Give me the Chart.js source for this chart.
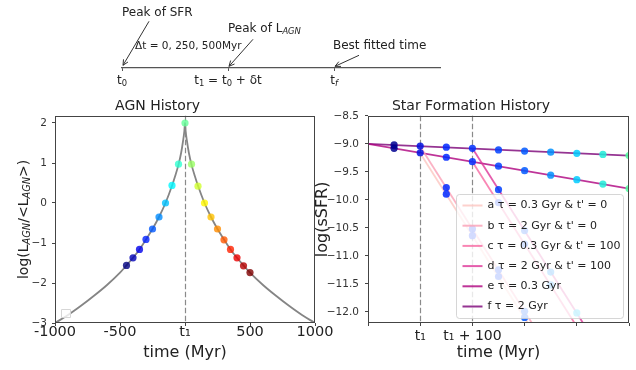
<!DOCTYPE html>
<html>
<head>
<meta charset="utf-8">
<script src="https://cdn.jsdelivr.net/npm/chart.js@4.4.0/dist/chart.umd.min.js"></script>
<style>
  html, body { margin: 0; padding: 0; background: #fff; }
  #wrap { position: relative; width: 636px; height: 370px; overflow: hidden; }
  canvas { position: absolute; }
</style>
</head>
<body>
<div id="wrap">
  <canvas id="timeline" width="636" height="100" style="left:0px;top:0px"></canvas>
  <canvas id="agn" width="345" height="275" style="left:0px;top:95px"></canvas>
  <canvas id="sfh" width="323" height="275" style="left:313px;top:95px"></canvas>
</div>
<script>
// ---- top sketch: timeline ----
const timelinePos = [0, 1, 2];
const timelineEnd = 3;
const timelineLabels = [
  [['t'], ['0', 'sub']],
  [['t'], ['1', 'sub'], [' = t'], ['0', 'sub'], [' + δt']],
  [['t'], ['f', 'subi']]
];

// ---- AGN history ----
const agnDotTimes = [-450, -400, -350, -300, -250, -200, -150, -100, -50, 0,
                     50, 100, 150, 200, 250, 300, 350, 400, 450, 500];
const agnDotValues = [-1.56, -1.37, -1.16, -0.91, -0.65, -0.35, 0.0, 0.44, 0.97, 2.0,
                      0.97, 0.42, 0.0, -0.35, -0.65, -0.92, -1.16, -1.37, -1.57, -1.74];
const agnCurveTimes = [-1000, -900, -800, -700, -600, -500, -450, -400, -350, -300, -250, -200,
                       -150, -100, -75, -50, -30, -15, -5, 0, 5, 15, 30, 50, 75, 100, 150,
                       200, 250, 300, 350, 400, 450, 500, 600, 700, 800, 900, 1000];
const agnCurveValues = [-3.0, -2.8, -2.57, -2.32, -2.05, -1.74, -1.56, -1.37, -1.16, -0.91, -0.65, -0.35,
                        0.0, 0.43, 0.68, 0.96, 1.25, 1.55, 1.8, 2.0, 1.8, 1.55, 1.25, 0.96, 0.68, 0.43, 0.0,
                        -0.35, -0.65, -0.91, -1.16, -1.37, -1.56, -1.74, -2.05, -2.32, -2.57, -2.8, -3.0];
const agnXTicks = [-1000, -500, 0, 500, 1000];
const agnXLabels = ['-1000', '-500', 't₁', '500', '1000'];

// ---- star formation history ----
const sfhTimes = [-50, 0, 50, 100, 150, 200, 250, 300, 350, 400];
const fDots = [-9.02, -9.04, -9.06, -9.08, -9.11, -9.13, -9.15, -9.17, -9.19, -9.21];
const eDots = [-9.08, -9.16, -9.24, -9.32, -9.40, -9.48, -9.56, -9.64, -9.72, -9.80];
const abTimes = [50, 100, 150, 200];
const aDots = [-9.90, -10.64, -11.37, -12.10];
const bDots = [-9.78, -10.52, -11.25, -11.99];
const cdTimes = [150, 200, 250, 300];
const cDots = [-10.05, -10.79, -11.52, -12.26];
const dDots = [-9.82, -10.55, -11.29, -12.02];
const baseTimes = [-100, 400];
const fLine = [-9.0, -9.21];
const eLine = [-9.0, -9.80];
const abLineTimes = [0, 250];
const aLine = [-9.17, -12.85];
const bLine = [-9.05, -12.73];
const cdLineTimes = [100, 350];
const cLine = [-9.32, -13.0];
const dLine = [-9.08, -12.76];
const sfhXTicks = [-100, 0, 100, 200, 300, 400];
const sfhXLabels = ['', 't₁', 't₁ + 100', '', '', ''];
const sfhLabels = ["a τ = 0.3 Gyr & t' = 0", "b τ = 2 Gyr & t' = 0", "c τ = 0.3 Gyr & t' = 100",
                   "d τ = 2 Gyr & t' = 100", "e τ = 0.3 Gyr", "f τ = 2 Gyr"];

// colours
const agnDotColors = ['#000080', '#0000b5', '#0000eb', '#0021ff', '#0057ff', '#008cff', '#00c2ff',
  '#00f8ff', '#2effd1', '#64ff99', '#9aff65', '#d0ff2e', '#fff800', '#ffc200', '#ff8c00',
  '#ff5700', '#ff2100', '#eb0000', '#b50000', '#800000'];
const sfhDotColors = ['#000090', '#0010e0', '#0028ff', '#0030ff', '#0040ff', '#0058ff',
  '#0090ff', '#00ccff', '#20ecd8', '#50ffa0'];
const sfhLineColors = ['#fcc5c0', '#fa9fb5', '#f768a1', '#dd3497', '#ae017e', '#7a0177'];

const FONT = "'DejaVu Sans', sans-serif";
Chart.defaults.font.family = FONT;
Chart.defaults.color = '#222';

function pts(xs, ys) { return xs.map((x, i) => ({ x: x, y: ys[i] })); }
function minus(v) { return v < 0 ? '−' + Math.abs(v) : String(v); }
function alpha(c, a) { return c + Math.round(a * 255).toString(16).padStart(2, '0'); }
function sfhColor(t) { return alpha(sfhDotColors[sfhTimes.indexOf(t)], 0.85); }

// text with subscripts: parts = [[text, 'sub' | 'subi' | undefined], ...]
function drawRich(ctx, parts, x, y, size, align) {
  const font = p => (p[1] === 'subi' ? 'italic ' : '') + (p[1] ? size * 0.7 : size) + 'px ' + FONT;
  let w = 0;
  parts.forEach(p => { ctx.font = font(p); w += ctx.measureText(p[0]).width; });
  let cx = align === 'center' ? x - w / 2 : x;
  ctx.save();
  ctx.fillStyle = '#222';
  ctx.textAlign = 'left';
  ctx.textBaseline = 'alphabetic';
  parts.forEach(p => {
    ctx.font = font(p);
    ctx.fillText(p[0], cx, y + (p[1] ? size * 0.2 : 0));
    cx += ctx.measureText(p[0]).width;
  });
  ctx.restore();
}

function arrow(ctx, x0, y0, x1, y1) {
  const ang = Math.atan2(y1 - y0, x1 - x0);
  ctx.save();
  ctx.strokeStyle = '#333';
  ctx.lineWidth = 1;
  ctx.beginPath();
  ctx.moveTo(x0, y0); ctx.lineTo(x1, y1);
  [0.45, -0.45].forEach(d => {
    ctx.moveTo(x1, y1);
    ctx.lineTo(x1 - 6 * Math.cos(ang + d), y1 - 6 * Math.sin(ang + d));
  });
  ctx.stroke();
  ctx.restore();
}

// frame round the plot area
const frame = {
  id: 'frame',
  afterDatasetsDraw(chart) {
    const { ctx, chartArea: a } = chart;
    ctx.save();
    ctx.strokeStyle = '#444';
    ctx.lineWidth = 1;
    ctx.strokeRect(Math.round(a.left) + 0.5, Math.round(a.top) + 0.5,
      Math.round(a.right) - Math.round(a.left) - 1, Math.round(a.bottom) - Math.round(a.top) - 1);
    ctx.restore();
  }
};

// dashed vertical guides
const guides = {
  id: 'guides',
  beforeDatasetsDraw(chart, args, opts) {
    const { ctx, chartArea: a, scales: { x } } = chart;
    ctx.save();
    ctx.strokeStyle = '#8a8a8a';
    ctx.lineWidth = 1.2;
    ctx.setLineDash([5.5, 2.5]);
    (opts.at || []).forEach(v => {
      const px = Math.round(x.getPixelForValue(v)) + 0.5;
      ctx.beginPath(); ctx.moveTo(px, a.top); ctx.lineTo(px, a.bottom); ctx.stroke();
    });
    ctx.restore();
  }
};

// y title with subscripts + empty legend frame
const agnExtras = {
  id: 'agnExtras',
  afterDraw(chart) {
    const { ctx, chartArea: a } = chart;
    ctx.save();
    ctx.translate(27.5, (a.top + a.bottom) / 2);
    ctx.rotate(-Math.PI / 2);
    drawRich(ctx, [['log(L'], ['AGN', 'subi'], ['/<L'], ['AGN', 'subi'], ['>)']], 0, 0, 14, 'center');
    ctx.restore();
    ctx.save();
    ctx.strokeStyle = '#d6d6d6';
    ctx.fillStyle = 'rgba(255,255,255,0.8)';
    ctx.lineWidth = 1;
    ctx.beginPath();
    ctx.rect(a.left + 6.5, a.bottom - 13.5, 9, 8);
    ctx.fill(); ctx.stroke();
    ctx.restore();
  }
};

// legend box drawn over the data
const sfhLegend = {
  id: 'sfhLegend',
  afterDatasetsDraw(chart) {
    const { ctx, chartArea: a } = chart;
    const w = 167, h = 124;
    const x0 = Math.round(a.right - 6 - w) + 0.5, y0 = Math.round(a.bottom - 5 - h) + 0.5;
    ctx.save();
    ctx.beginPath();
    const r = 3;
    ctx.moveTo(x0 + r, y0);
    ctx.arcTo(x0 + w, y0, x0 + w, y0 + h, r);
    ctx.arcTo(x0 + w, y0 + h, x0, y0 + h, r);
    ctx.arcTo(x0, y0 + h, x0, y0, r);
    ctx.arcTo(x0, y0, x0 + w, y0, r);
    ctx.closePath();
    ctx.fillStyle = 'rgba(255,255,255,0.8)';
    ctx.fill();
    ctx.strokeStyle = 'rgba(204,204,204,0.8)';
    ctx.stroke();
    ctx.font = '11px ' + FONT;
    ctx.textBaseline = 'middle';
    ctx.textAlign = 'left';
    sfhLabels.forEach((t, i) => {
      const yy = y0 + 11 + i * 20.2;
      ctx.strokeStyle = alpha(sfhLineColors[i], 0.8);
      ctx.lineWidth = 2;
      ctx.beginPath(); ctx.moveTo(x0 + 6, yy); ctx.lineTo(x0 + 26, yy); ctx.stroke();
      ctx.fillStyle = '#222';
      ctx.fillText(t, x0 + 31, yy);
    });
    ctx.restore();
  }
};

// timeline sketch: labels and arrows
const notes = [
  { at: 0, text: [['Peak of SFR']], size: 12, dx: 0, y: 15.7, tip: [1, -2.7], tail: [27, -46.7] },
  { at: 1, text: [['Peak of L'], ['AGN', 'subi']], size: 12, dx: 0, y: 32, tip: [1, -1.7], tail: [25, -28.7] },
  { at: 2, text: [['Best fitted time']], size: 12, dx: -1, y: 49.3, tip: [1, -1.7], tail: [25, -12.7] },
  { at: 0, text: [['Δt = 0, 250, 500Myr']], size: 10.5, dx: 13, y: 49 }
];
const sketch = {
  id: 'sketch',
  afterDraw(chart) {
    const { ctx, scales: { x } } = chart;
    const axisY = x.top;
    timelinePos.forEach((v, i) => drawRich(ctx, timelineLabels[i], x.getPixelForValue(v), axisY + 16, 12, 'center'));
    notes.forEach(n => {
      const px = x.getPixelForValue(n.at);
      drawRich(ctx, n.text, px + n.dx, n.y, n.size, 'left');
      if (n.tip) arrow(ctx, px + n.tail[0], axisY + n.tail[1], px + n.tip[0], axisY + n.tip[1]);
    });
  }
};

const axisGrid = { drawOnChartArea: false, tickLength: 3, color: '#444', lineWidth: 1 };

new Chart(document.getElementById('timeline'), {
  type: 'scatter',
  data: { datasets: [] },
  options: {
    responsive: false, devicePixelRatio: 1, animation: false, events: [],
    layout: { padding: { left: 122, right: 636 - 440, top: 0, bottom: 0 } },
    plugins: { legend: { display: false }, tooltip: { enabled: false } },
    scales: {
      x: {
        type: 'linear', min: 0, max: timelineEnd,
        afterFit: s => { s.height = 32; },
        afterBuildTicks: s => { s.ticks = timelinePos.map(v => ({ value: v })); },
        ticks: { callback: () => '' },
        grid: { drawOnChartArea: false, tickLength: 3, color: '#555' },
        border: { color: '#555', width: 1.2 }
      },
      y: { display: false, min: 0, max: 1 }
    }
  },
  plugins: [sketch]
});

new Chart(document.getElementById('agn'), {
  type: 'scatter',
  data: {
    datasets: [
      { data: pts(agnDotTimes, agnDotValues), pointBackgroundColor: agnDotColors.map(c => alpha(c, 0.8)),
        pointBorderWidth: 0, pointRadius: 3.6, clip: 0, order: 0 },
      { type: 'line', data: pts(agnCurveTimes, agnCurveValues), borderColor: '#858585', borderWidth: 1.8,
        pointRadius: 0, cubicInterpolationMode: 'monotone', clip: 0, order: 1 }
    ]
  },
  options: {
    responsive: false, devicePixelRatio: 1, animation: false, events: [],
    layout: { padding: { left: 0, right: 30, top: 0, bottom: 0 } },
    plugins: {
      legend: { display: false }, tooltip: { enabled: false },
      title: { display: true, text: 'AGN History', font: { size: 14, weight: 'normal' }, color: '#222', padding: { top: 3, bottom: 1 } },
      guides: { at: [0] }
    },
    scales: {
      x: {
        type: 'linear', min: -1000, max: 1000,
        afterFit: s => { s.height = 47; },
        afterBuildTicks: s => { s.ticks = agnXTicks.map(v => ({ value: v })); },
        ticks: { autoSkip: false, maxRotation: 0, font: { size: 14.5 }, color: '#222', padding: -2,
                 callback: (v, i) => agnXLabels[i] },
        grid: axisGrid, border: { display: false },
        title: { display: true, text: 'time (Myr)', font: { size: 16 }, color: '#222', padding: { top: 0, bottom: 8 } }
      },
      y: {
        type: 'linear', min: -3, max: 2.18,
        afterFit: s => { s.width = 55; },
        ticks: { stepSize: 1, includeBounds: false, font: { size: 10.5 }, color: '#333', padding: 5, callback: v => minus(v) },
        grid: axisGrid, border: { display: false }
      }
    }
  },
  plugins: [guides, frame, agnExtras]
});

const sfhDots = (ts, vs) => ({ data: pts(ts, vs), pointBackgroundColor: ts.map(sfhColor),
  pointBorderWidth: 0, pointRadius: 3.6, clip: 0, order: 0 });
const sfhLine = (ts, vs, i) => ({ type: 'line', data: pts(ts, vs), borderColor: alpha(sfhLineColors[i], 0.8),
  borderWidth: 1.8, pointRadius: 0, clip: 0, order: 1 });

new Chart(document.getElementById('sfh'), {
  type: 'scatter',
  data: {
    datasets: [
      sfhDots(sfhTimes, fDots), sfhDots(sfhTimes, eDots),
      sfhDots(abTimes, aDots), sfhDots(abTimes, bDots),
      sfhDots(cdTimes, cDots), sfhDots(cdTimes, dDots),
      sfhLine(abLineTimes, aLine, 0), sfhLine(abLineTimes, bLine, 1),
      sfhLine(cdLineTimes, cLine, 2), sfhLine(cdLineTimes, dLine, 3),
      sfhLine(baseTimes, eLine, 4), sfhLine(baseTimes, fLine, 5)
    ]
  },
  options: {
    responsive: false, devicePixelRatio: 1, animation: false, events: [],
    layout: { padding: { left: 0, right: 7, top: 0, bottom: 0 } },
    plugins: {
      legend: { display: false }, tooltip: { enabled: false },
      title: { display: true, text: 'Star Formation History', font: { size: 14, weight: 'normal' }, color: '#222', padding: { top: 3, bottom: 1 } },
      guides: { at: [0, 100] }
    },
    scales: {
      x: {
        type: 'linear', min: -100, max: 400,
        afterFit: s => { s.height = 47; },
        afterBuildTicks: s => { s.ticks = sfhXTicks.map(v => ({ value: v })); },
        ticks: { autoSkip: false, maxRotation: 0, font: { size: 14 }, color: '#222', padding: 2,
                 callback: (v, i) => sfhXLabels[i] },
        grid: axisGrid, border: { display: false },
        title: { display: true, text: 'time (Myr)', font: { size: 16 }, color: '#222', padding: { top: 0, bottom: 8 } }
      },
      y: {
        type: 'linear', min: -12.2, max: -8.5,
        afterFit: s => { s.width = 55; },
        ticks: { stepSize: 0.5, includeBounds: false, font: { size: 10.5 }, color: '#333', padding: 6,
                 callback: v => '−' + Math.abs(v).toFixed(1) },
        grid: axisGrid, border: { display: false },
        title: { display: true, text: 'log(sSFR)', font: { size: 16 }, color: '#222', padding: { top: 0, bottom: 0 } }
      }
    }
  },
  plugins: [guides, frame, sfhLegend]
});
</script>
</body>
</html>
